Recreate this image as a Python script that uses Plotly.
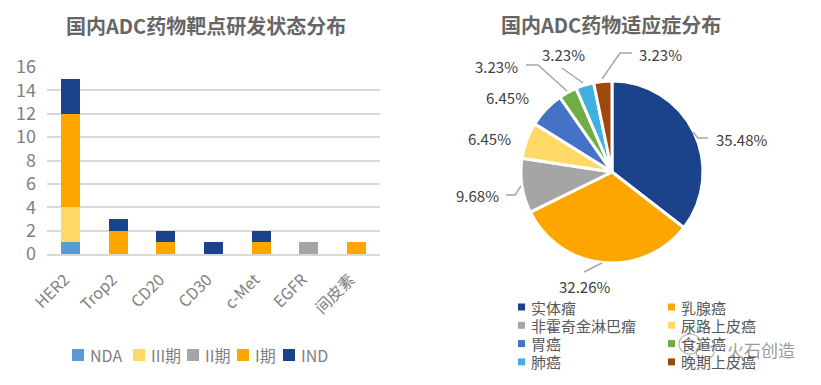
import plotly.graph_objects as go

W, H = 821, 385
FONT = "Noto Sans CJK SC"

targets = ["HER2", "Trop2", "CD20", "CD30", "c-Met", "EGFR", "间皮素"]
nda = [1, 0, 0, 0, 0, 0, 0]
phase3 = [3, 0, 0, 0, 0, 0, 0]
phase2 = [0, 0, 0, 0, 0, 1, 0]
phase1 = [8, 2, 1, 0, 1, 0, 1]
ind = [3, 1, 1, 1, 1, 0, 0]

indications = ["实体瘤", "乳腺癌", "非霍奇金淋巴瘤", "尿路上皮癌", "胃癌", "食道癌", "肺癌", "晚期上皮癌"]
counts = [11, 10, 3, 2, 2, 1, 1, 1]
pie_colors = ["#1A438C", "#FFA500", "#A5A5A5", "#FFD966", "#4472C4", "#70AD47", "#40B0E0", "#9E480E"]


def px(x):
    return x / W


def py(y):
    return 1 - y / H


fig = go.Figure()
bar_series = [
    ("NDA", nda, "#5B9BD5"),
    ("III期", phase3, "#FFD966"),
    ("II期", phase2, "#A5A5A5"),
    ("I期", phase1, "#FFA500"),
    ("IND", ind, "#1A438C"),
]
for name, vals, col in bar_series:
    fig.add_trace(go.Bar(x=targets, y=vals, name=name, marker=dict(color=col, line_width=0),
                         width=0.4, showlegend=False))

fig.add_trace(go.Pie(
    labels=indications, values=counts, sort=False, direction="clockwise", rotation=0,
    marker=dict(colors=pie_colors, line=dict(color="white", width=3)),
    textinfo="none", hoverinfo="label+percent", showlegend=False,
    domain=dict(x=[px(521), px(703)], y=[py(263), py(81)]),
))


def label(x, y, text, size, color, anchor="center", bold=False):
    return dict(x=px(x), y=py(y), xref="paper", yref="paper", showarrow=False,
                xanchor=anchor, yanchor="middle", borderpad=0, borderwidth=0,
                text=f"<b>{text}</b>" if bold else text,
                font=dict(family=FONT, size=size, color=color))


def square(x0, y0, size, color):
    return dict(type="rect", xref="paper", yref="paper", x0=px(x0), x1=px(x0 + size),
                y0=py(y0), y1=py(y0 + size), fillcolor=color, line_width=0)


total = sum(counts)
label_pos = [(741, 139), (584, 286), (477, 196), (489, 138), (507, 98), (497, 66), (563, 54), (660, 54)]
annotations = [label(lx, ly, f"{v / total * 100:.2f}%", 15, "#404040") for v, (lx, ly) in zip(counts, label_pos)]
annotations += [
    label(206, 25, "国内ADC药物靶点研发状态分布", 20, "#666666", bold=True),
    label(611, 24, "国内ADC药物适应症分布", 20, "#666666", bold=True),
    label(761, 349, "火石创造", 17, "rgba(120,120,120,0.75)"),
]

leaders = [
    [(693, 132), (698, 138), (708, 138)],
    [(602, 263), (584, 272)],
    [(521, 186), (515, 195), (506, 195)],
    [(567, 91), (538, 65), (526, 65)],
    [(583, 83), (562, 68)],
    [(602, 79), (620, 53), (632, 53)],
]
shapes = []
for pts in leaders:
    path = "M " + " L ".join(f"{px(a):.4f},{py(b):.4f}" for a, b in pts)
    shapes.append(dict(type="path", path=path, xref="paper", yref="paper",
                       line=dict(color="#A6A6A6", width=1.5)))

# hand-placed legend for the bars
bar_legend_x = [72, 133, 187, 237, 283]
for (name, _, col), x in zip(bar_series, bar_legend_x):
    shapes.append(square(x, 349, 12, col))
    annotations.append(label(x + 18, 355, name, 16, "#7F7F7F", anchor="left"))

# hand-placed two-column legend for the pie
for i, (name, col) in enumerate(zip(indications, pie_colors)):
    sx = 518 if i % 2 == 0 else 668
    cy = 307 + 18.3 * (i // 2)
    shapes.append(square(sx, cy - 3.5, 7, col))
    annotations.append(label(sx + 13, cy, name, 15, "#595959", anchor="left"))

# watermark logo outline
for cx, cy, rx, ry in [(690, 344, 11, 10), (705, 352, 9, 7)]:
    shapes.append(dict(type="circle", xref="paper", yref="paper",
                       x0=px(cx - rx), x1=px(cx + rx), y0=py(cy + ry), y1=py(cy - ry),
                       line=dict(color="rgba(150,150,150,0.7)", width=1.2)))

fig.update_layout(
    width=W, height=H, autosize=False,
    margin=dict(l=0, r=0, t=0, b=0, autoexpand=False),
    paper_bgcolor="white", plot_bgcolor="white",
    barmode="stack", bargap=0.6,
    font=dict(family=FONT, color="#7F7F7F"),
    xaxis=dict(domain=[px(47), px(380)], tickangle=-45, showgrid=False, showline=True,
               linecolor="#D9D9D9", linewidth=2, ticks="", automargin=False,
               ticklabelstandoff=8, ticklabelshift=-6,
               tickfont=dict(family=FONT, size=16, color="#7F7F7F")),
    yaxis=dict(domain=[py(254), py(67)], range=[0, 16], dtick=2, gridcolor="#D9D9D9", gridwidth=2,
               zeroline=False, ticks="", automargin=False, ticklabelstandoff=10,
               tickfont=dict(family=FONT, size=18, color="#7F7F7F")),
    annotations=annotations, shapes=shapes,
)
fig.write_html("out.html", config={"displayModeBar": False},
               post_script="document.body.style.margin='0';")
